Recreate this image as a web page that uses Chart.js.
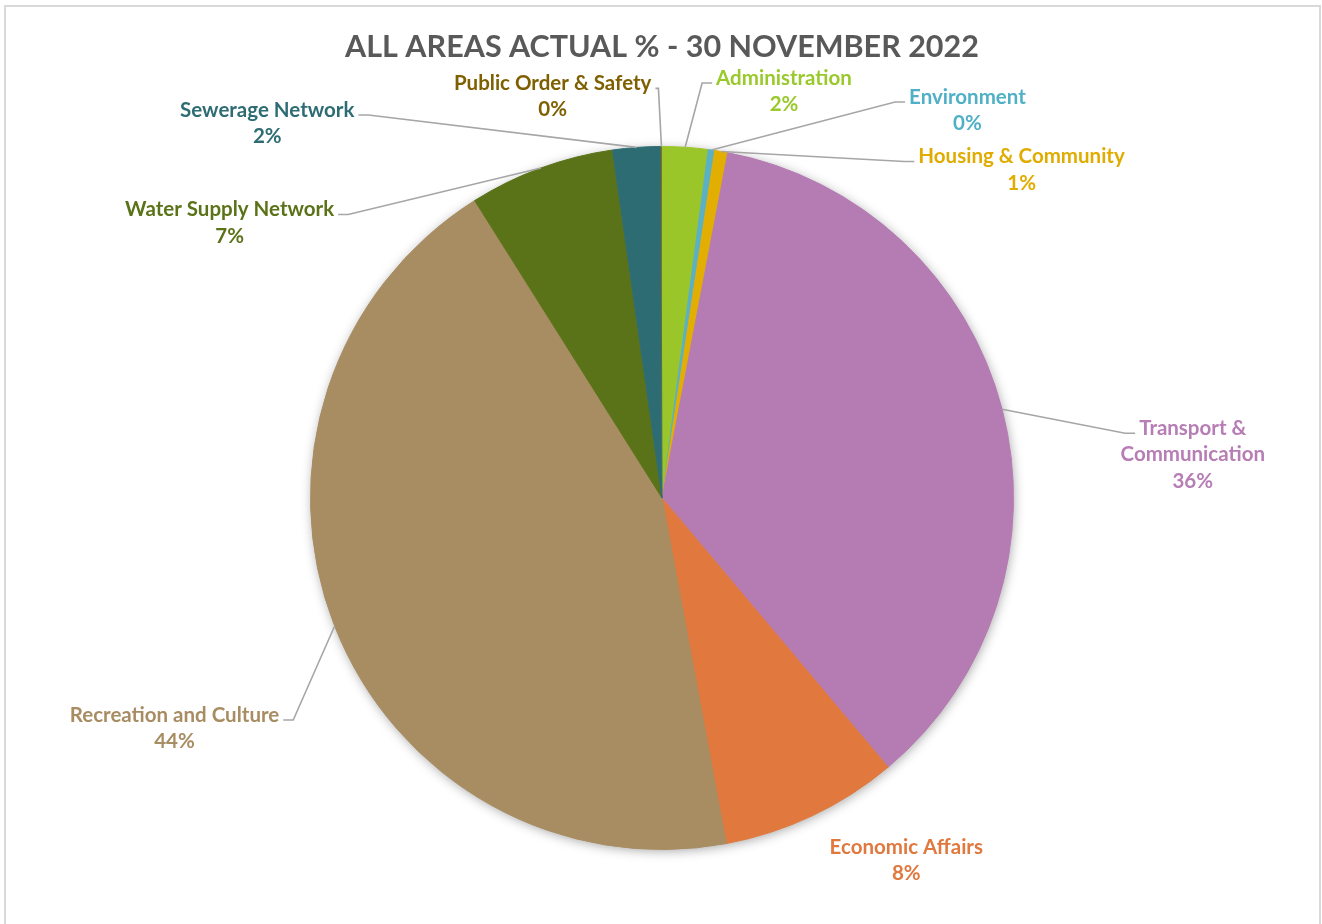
<!DOCTYPE html>
<html>
<head>
<meta charset="utf-8">
<script src="https://cdn.jsdelivr.net/npm/chart.js@4.4.0/dist/chart.umd.min.js"></script>
<style>
    html, body { margin: 0; padding: 0; background: #fff; }
    #wrap { position: relative; width: 1322px; height: 924px; overflow: hidden; }
    #frame { position: absolute; left: 4px; top: 5px; width: 1317px; height: 960px; border: 2px solid #d9d9d9; box-sizing: border-box; pointer-events: none; }
</style>
</head>
<body>
<div id="wrap">
    <canvas id="areaPieChart" width="1322" height="924"></canvas>
    <div id="frame"></div>
</div>
<script>
// Share of actual spend per area (%), clockwise from 12 o'clock
const categories = ['Administration', 'Environment', 'Housing & Community', 'Transport & Communication',
    'Economic Affairs', 'Recreation and Culture', 'Water Supply Network', 'Sewerage Network', 'Public Order & Safety'];
const actualPct = [2.1, 0.3, 0.6, 35.9, 8.2, 44.0, 6.7, 2.2, 0.05];

const sliceColors = ['#9bc62a', '#5bb1c2', '#e3ae02', '#b57bb3', '#e1783d', '#a88c62', '#5b7318', '#2e6c74', '#8c6c12'];
const labelColors = ['#99c92b', '#4fb0c6', '#e0ac00', '#b77db5', '#e1783d', '#a88c62', '#5b7318', '#2e6c74', '#7f6000'];

// Split a label into lines no wider than maxWidth
function wrapText(ctx, text, maxWidth) {
    const words = text.split(' ');
    const lines = [];
    let line = '';
    words.forEach(word => {
        const test = line ? line + ' ' + word : word;
        if (line && ctx.measureText(test).width > maxWidth) {
            lines.push(line);
            line = word;
        } else {
            line = test;
        }
    });
    lines.push(line);
    return lines;
}

// Outside labels with leader lines, plus a soft shadow under the pie
const outsideLabels = {
    id: 'outsideLabels',
    beforeDatasetsDraw(chart, args, opts) {
        const arc = chart.getDatasetMeta(0).data[0];
        const p = arc.getProps(['x', 'y', 'outerRadius'], true);
        const ctx = chart.ctx;
        ctx.save();
        ctx.shadowColor = opts.shadowColor;
        ctx.shadowBlur = opts.shadowBlur;
        ctx.shadowOffsetX = opts.shadowOffsetX;
        ctx.shadowOffsetY = opts.shadowOffsetY;
        ctx.fillStyle = '#ffffff';
        ctx.beginPath();
        ctx.arc(p.x, p.y, p.outerRadius - 1, 0, Math.PI * 2);
        ctx.fill();
        ctx.restore();
    },
    afterDatasetsDraw(chart, args, opts) {
        const ctx = chart.ctx;
        const meta = chart.getDatasetMeta(0);
        const data = chart.data.datasets[0].data;
        const total = data.reduce((acc, v) => acc + v, 0);

        ctx.save();
        ctx.font = `bold ${opts.fontSize}px ${opts.fontFamily}`;
        ctx.textAlign = 'center';
        ctx.textBaseline = 'middle';

        meta.data.forEach((arc, i) => {
            const p = arc.getProps(['x', 'y', 'startAngle', 'endAngle', 'outerRadius'], true);
            const mid = (p.startAngle + p.endAngle) / 2;
            const ax = p.x + Math.cos(mid) * p.outerRadius;
            const ay = p.y + Math.sin(mid) * p.outerRadius;

            const place = opts.placement[i];
            const cx = p.x + place.dx * p.outerRadius;
            const cy = p.y + place.dy * p.outerRadius;

            const lines = wrapText(ctx, chart.data.labels[i], opts.maxWidth);
            lines.push(Math.round(data[i] / total * 100) + '%');
            const top = cy - (lines.length - 1) * opts.lineHeight / 2;

            // leader line: from slice middle on the rim to a short stub beside the first line
            if (place.line !== false) {
                const w = ctx.measureText(lines[0]).width;
                const stub = place.stub !== undefined ? place.stub : opts.stub;
                const ly = top + opts.lineDrop;
                let nearX, farX;
                if (cx > ax) {
                    nearX = cx - w / 2 - opts.gap;
                    farX = nearX - stub;
                } else {
                    nearX = cx + w / 2 + opts.gap;
                    farX = nearX + stub;
                }
                ctx.strokeStyle = opts.lineColor;
                ctx.lineWidth = opts.lineWidth;
                ctx.beginPath();
                ctx.moveTo(ax, ay);
                ctx.lineTo(farX, ly);
                ctx.lineTo(nearX, ly);
                ctx.stroke();
            }

            ctx.fillStyle = labelColors[i];
            lines.forEach((txt, k) => {
                ctx.fillText(txt, cx, top + k * opts.lineHeight);
            });
        });
        ctx.restore();
    }
};

const ctx = document.getElementById('areaPieChart').getContext('2d');
new Chart(ctx, {
    type: 'pie',
    data: {
        labels: categories,
        datasets: [{
            data: actualPct,
            backgroundColor: sliceColors,
            borderColor: sliceColors, // same colour as fill, hides the seams between slices
            borderWidth: [1, 1, 1, 1, 1, 1, 1, 1, 0], // the ~0% sliver stays invisible
            hoverOffset: 0,
            offset: 0
        }]
    },
    options: {
        responsive: false,
        animation: false,
        events: [],
        layout: {
            padding: { top: 0, bottom: 74, left: 2, right: 0 }
        },
        plugins: {
            legend: { display: false },
            tooltip: { enabled: false },
            title: {
                display: true,
                text: 'ALL AREAS ACTUAL % - 30 NOVEMBER 2022',
                color: '#595959',
                font: { family: 'Lato', size: 30.5, weight: 'bold', lineHeight: 1.2 },
                padding: { top: 29, bottom: 80.4 }
            },
            outsideLabels: {
                fontFamily: 'Lato',
                fontSize: 20.5,
                lineHeight: 26.5,
                maxWidth: 232,
                lineColor: '#a6a6a6',
                lineWidth: 1.6,
                gap: 4,
                stub: 10,
                lineDrop: 5,
                shadowColor: 'rgba(0, 0, 0, 0.38)',
                shadowBlur: 12,
                shadowOffsetX: 1,
                shadowOffsetY: 2,
                // label block centre relative to pie centre, in radii
                placement: [
                    { dx: 0.347, dy: -1.157 },
                    { dx: 0.869, dy: -1.103 },
                    { dx: 1.023, dy: -0.934 },
                    { dx: 1.510, dy: -0.123 },
                    { dx: 0.695, dy: 1.031, line: false },
                    { dx: -1.387, dy: 0.655 },
                    { dx: -1.230, dy: -0.783 },
                    { dx: -1.123, dy: -1.066 },
                    { dx: -0.311, dy: -1.142, stub: 3 }
                ]
            }
        }
    },
    plugins: [outsideLabels]
});
</script>
</body>
</html>
